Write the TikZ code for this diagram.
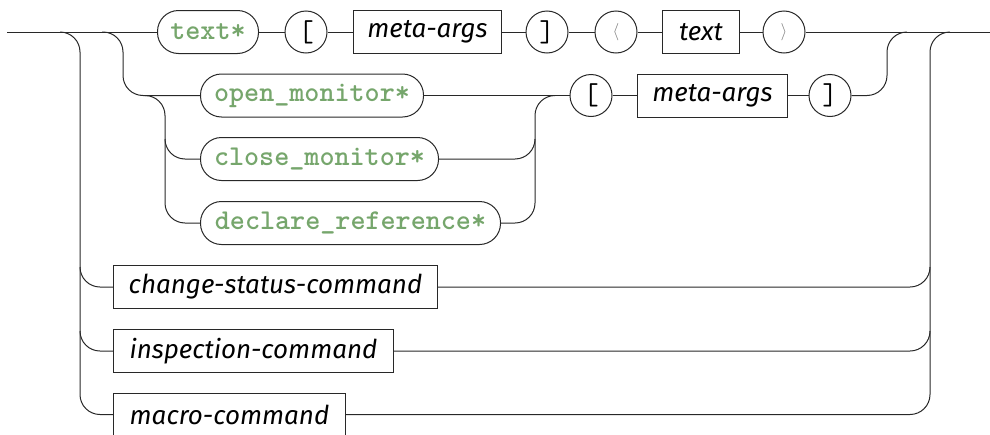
\documentclass[tikz,border=0pt]{standalone}
\usepackage{fontspec}
\newfontfamily\itsans{Fira Sans}
\definecolor{kw}{RGB}{118,166,108}
\definecolor{ln}{RGB}{40,40,40}
\begin{document}
\begin{tikzpicture}[x=1pt,y=-1pt]
\tikzset{
 pill/.style={draw=ln, line width=1pt, rounded corners=21pt, minimum height=43pt, inner sep=0pt, anchor=west, font=\ttfamily\bfseries\fontsize{28.7}{28.7}\selectfont, text=kw},
 circ/.style={draw=ln, line width=1pt, circle, minimum size=42pt, inner sep=0pt, font=\ttfamily\fontsize{30}{30}\selectfont},
 angl/.style={circ, text=gray, font=\fontsize{18}{18}\selectfont},
 bx/.style={draw=ln, line width=1pt, rectangle, minimum height=43pt, inner sep=0pt, anchor=west, font=\itsans\itshape\fontsize{26}{26}\selectfont},
 wire/.style={draw=ln, line width=1pt, rounded corners=20pt}
}
\useasboundingbox (0,0) rectangle (990,434);
% row 1
\node[pill, minimum width=101pt] (t1) at (157,32) {text*};
\node[circ] (lb1) at (306,32) {[};
\node[bx, minimum width=148pt] (m1) at (353,32) {meta-args};
\node[circ] (rb1) at (547,32) {]};
\node[angl] (la) at (616,32) {$\langle$};
\node[bx, minimum width=77pt] (tx) at (662,32) {text};
\node[angl] (ra) at (784,32) {$\rangle$};
% row 2
\node[pill, minimum width=223pt] (om) at (200,95.5) {open\_monitor*};
\node[circ] (lb2) at (591,95.5) {[};
\node[bx, minimum width=150pt] (m2) at (637,95.5) {meta-args};
\node[circ] (rb2) at (830,95.5) {]};
\node[pill, minimum width=238pt] (cm) at (200,159) {close\_monitor*};
\node[pill, minimum width=300pt] (dr) at (200,223) {declare\_reference*};
% lower rows
\node[bx, minimum width=324pt] (cs) at (113,287) {change-status-command};
\node[bx, minimum width=280pt] (ic) at (113,351) {inspection-command};
\node[bx, minimum width=232pt] (mc) at (113,414.5) {macro-command};
% coordinates
\coordinate (start) at (7,32);
\coordinate (end) at (990,32);
\coordinate (s1) at (60,32);
\coordinate (s2) at (102,32);
\coordinate (s3) at (145,95.5);
\coordinate (b1) at (80,267);
\coordinate (b2) at (80,331);
\coordinate (b3) at (165,139);
\coordinate (j1) at (535,139);
\coordinate (j2) at (555,95.5);
\coordinate (j3) at (907,32);
\coordinate (j4) at (950,32);
\coordinate (j5) at (930,267);
\coordinate (j6) at (930,331);
% wires
\draw[wire] (start) -- (t1.west);
\draw[wire] (t1.east) -- (lb1.west);
\draw[wire] (lb1.east) -- (m1.west);
\draw[wire] (m1.east) -- (rb1.west);
\draw[wire] (rb1.east) -- (la.west);
\draw[wire] (la.east) -- (tx.west);
\draw[wire] (tx.east) -- (ra.west);
\draw[wire] (ra.east) -- (end);
\draw[wire] (s1) -| (mc.west -| b1) -- (mc.west);
\draw[wire] (b1) |- (cs.west);
\draw[wire] (b2) |- (ic.west);
\draw[wire] (s2) -| (om.west -| 123,0) -- (om.west);
\draw[wire] (s3) -| (dr.west -| b3) -- (dr.west);
\draw[wire] (b3) |- (cm.west);
\draw[wire] (dr.east) -| (j2 -| j1) -- (j2);
\draw[wire] (cm.east) -| (j1);
\draw[wire] (om.east) -- (lb2.west);
\draw[wire] (lb2.east) -- (m2.west);
\draw[wire] (m2.east) -- (rb2.west);
\draw[wire] (rb2.east) -| (j3 -| 887,0) -- (j3);
\draw[wire] (mc.east) -| (j4 -| j5) -- (j4);
\draw[wire] (cs.east) -| (j5);
\draw[wire] (ic.east) -| (j6);
\end{tikzpicture}
\end{document}
